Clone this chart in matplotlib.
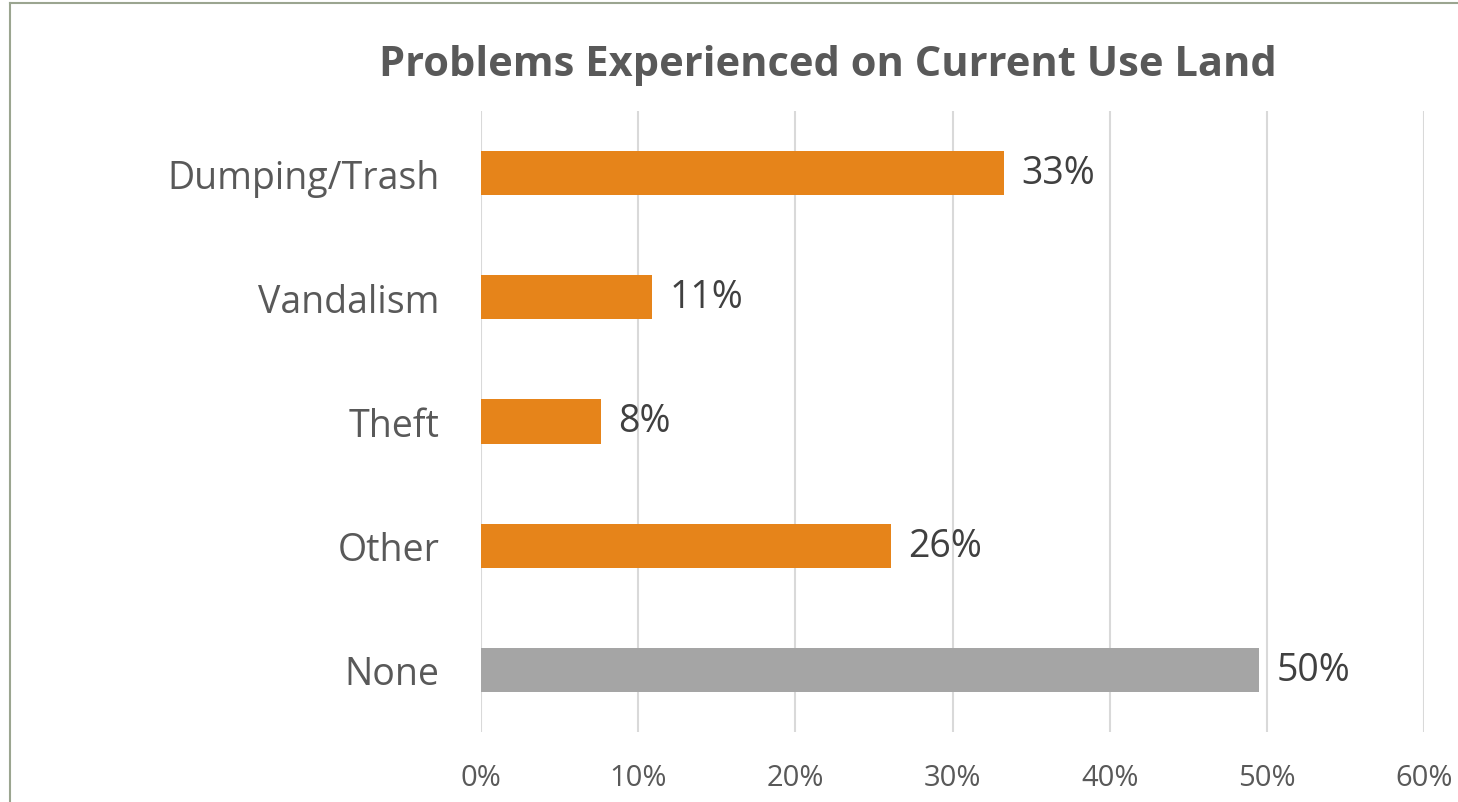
import numpy as np
import matplotlib.pyplot as plt
from matplotlib.lines import Line2D

categories = ['Dumping/Trash', 'Vandalism', 'Theft', 'Other', 'None']
values = [33.3, 10.9, 7.6, 26.1, 49.5]
labels = ['33%', '11%', '8%', '26%', '50%']
bar_colors = ['#E6841A', '#E6841A', '#E6841A', '#E6841A', '#A5A5A5']
xticks = [0, 10, 20, 30, 40, 50, 60]
xtick_labels = ['0%', '10%', '20%', '30%', '40%', '50%', '60%']

plt.rcParams['font.family'] = ['Open Sans', 'DejaVu Sans']

fig = plt.figure(figsize=(14.58, 8.03), dpi=100)
ax = fig.add_axes([0.33, 0.0872, 0.6467, 0.7733])

y = np.arange(len(categories))
ax.barh(y, values, height=0.355, color=bar_colors, zorder=3)
for yi, v, lab in zip(y, values, labels):
    ax.text(v + 1.1, yi, lab, va='center', ha='left', fontsize=27, color='#404040')

ax.set_ylim(len(categories) - 0.5, -0.5)
ax.set_xlim(0, 60)
ax.set_yticks(y)
ax.set_yticklabels(categories, fontsize=27, color='#595959')
ax.set_xticks(xticks)
ax.set_xticklabels(xtick_labels, fontsize=21, color='#595959')
ax.tick_params(axis='both', length=0)
ax.tick_params(axis='y', pad=30)
ax.tick_params(axis='x', pad=22)
ax.grid(axis='x', color='#D9D9D9', linewidth=1.5, zorder=0)
for s in ax.spines.values():
    s.set_visible(False)

fig.text(0.568, 0.918, 'Problems Experienced on Current Use Land', ha='center', va='center',
         fontsize=30, fontweight='bold', color='#595959')

# chart frame (left and top edges visible)
fig.add_artist(Line2D([10 / 1458, 10 / 1458], [0, 1 - 4 / 803], color='#9BA590', linewidth=1.5,
                      transform=fig.transFigure))
fig.add_artist(Line2D([10 / 1458, 1], [1 - 4 / 803, 1 - 4 / 803], color='#9BA590', linewidth=1.5,
                      transform=fig.transFigure))

fig.savefig('out.png', dpi=100)
